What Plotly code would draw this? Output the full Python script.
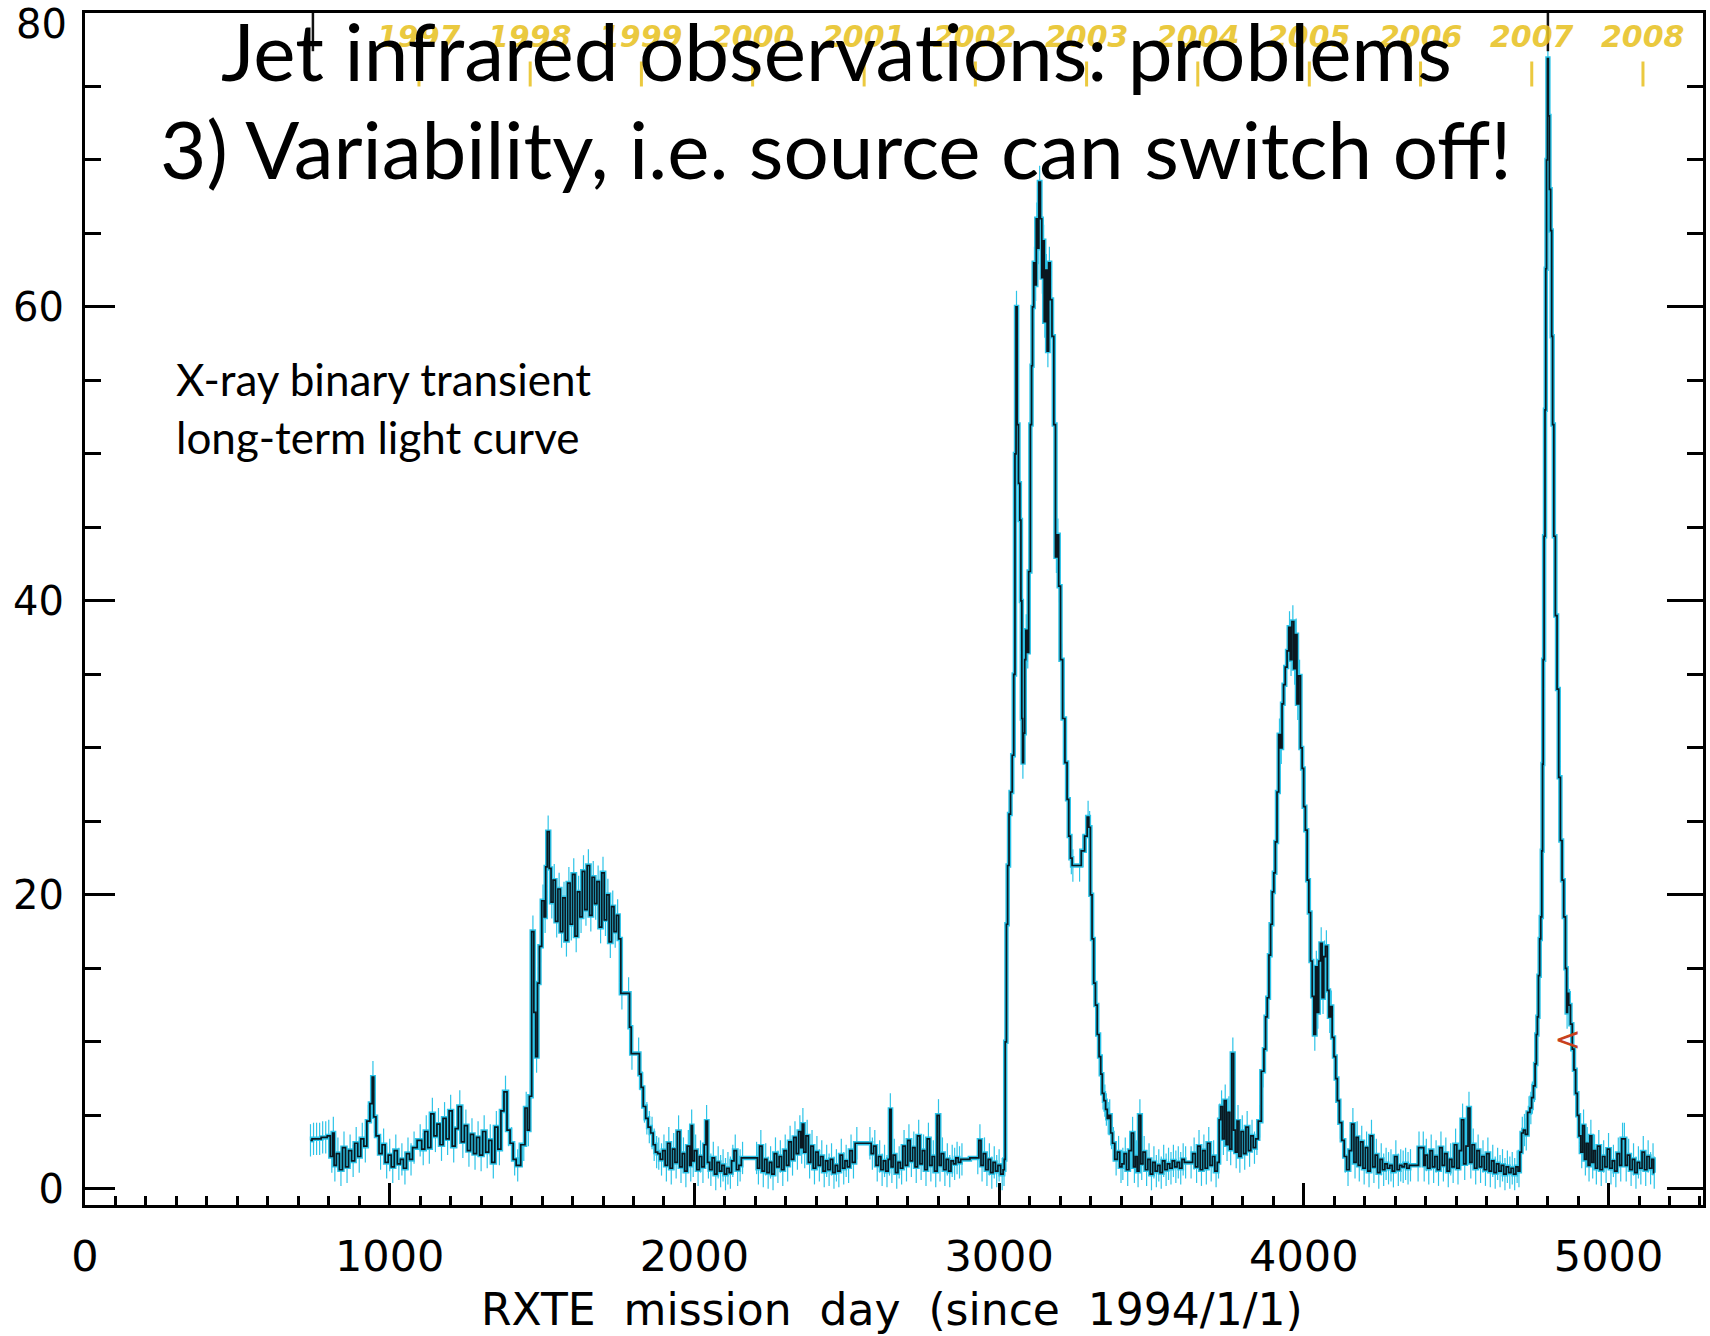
import plotly.graph_objects as go

# RXTE/ASM long-term light curve of the transient, grouped by epoch.
# Each entry: (mission day since 1994/1/1, count rate)
quiet_1996 = [
    (740, 3.3), (750, 3.4), (760, 3.4), (770, 3.4), (780, 3.5), (790, 3.5), (800, 3.6),
    (810, 2.2), (815, 3.8), (820, 1.6), (830, 2.4), (840, 1.3), (850, 2.8), (860, 1.5),
    (870, 2.6), (880, 1.9), (890, 3.1), (900, 2.2), (910, 3.4), (920, 2.9), (930, 4.6),
    (940, 5.8), (945, 7.6), (950, 4.9), (960, 3.6), (970, 2.4), (980, 3.0), (990, 1.8),
    (1000, 2.3), (1010, 1.5), (1020, 2.6), (1030, 1.7), (1040, 2.0), (1050, 1.4),
    (1060, 2.4), (1070, 2.0), (1080, 2.8), (1100, 3.3), (1110, 2.7), (1120, 3.9),
    (1130, 2.8), (1140, 5.1), (1150, 3.6), (1160, 4.4), (1170, 3.0), (1180, 4.8),
    (1190, 3.4), (1200, 5.3), (1210, 2.9), (1220, 4.1), (1230, 5.6), (1240, 3.2),
    (1250, 4.3), (1260, 2.6), (1270, 3.7), (1280, 2.4), (1290, 3.5), (1300, 2.3),
    (1310, 3.9), (1320, 2.5), (1330, 3.3), (1340, 1.8), (1350, 4.2), (1360, 2.7),
    (1370, 5.3), (1380, 6.6), (1390, 4.0), (1400, 3.1), (1410, 2.0), (1420, 1.6),
    (1440, 3.0),
]

outburst_1998 = [
    (1448, 5.5), (1455, 4.0), (1462, 6.3), (1470, 17.5), (1476, 12.0), (1482, 9.0),
    (1488, 14.0), (1495, 16.5), (1503, 19.6), (1510, 18.5), (1514, 21.9), (1520, 24.3),
    (1527, 21.8), (1532, 19.5), (1540, 21.0), (1548, 18.2), (1556, 20.4), (1564, 17.5),
    (1572, 19.8), (1580, 16.9), (1588, 20.8), (1596, 18.0), (1604, 21.4), (1612, 17.2),
    (1620, 20.2), (1628, 18.5), (1636, 21.6), (1644, 19.0), (1652, 22.0), (1660, 18.6),
    (1668, 21.2), (1676, 19.4), (1684, 20.9), (1692, 17.8), (1700, 21.5), (1708, 18.3),
    (1716, 20.0), (1724, 16.8), (1732, 19.2), (1740, 17.5), (1748, 18.6), (1755, 17.0),
    (1762, 13.3), (1784, 13.3), (1790, 11.0), (1795, 9.2), (1817, 9.2), (1822, 7.8),
    (1828, 6.9), (1836, 5.6), (1844, 4.8), (1852, 4.2), (1861, 3.8), (1868, 3.0),
    (1876, 2.5), (1883, 2.4), (1892, 2.0), (1900, 2.6),
]

quiet_1999 = [
    (1908, 1.6), (1916, 3.1), (1924, 1.4), (1932, 2.7), (1940, 1.8), (1948, 3.9),
    (1956, 1.5), (1964, 2.4), (1972, 1.2), (1980, 2.9), (1988, 1.6), (1991, 4.3),
    (1996, 1.9), (2004, 2.6), (2012, 1.3), (2020, 2.2), (2028, 1.5), (2036, 3.0),
    (2040, 4.6), (2046, 1.8), (2054, 1.3), (2062, 2.1), (2070, 1.0), (2078, 1.8),
    (2086, 1.2), (2094, 1.6), (2102, 1.0), (2110, 1.4), (2118, 1.1), (2126, 1.9),
    (2134, 2.6), (2142, 1.3), (2150, 1.6), (2158, 2.1), (2204, 2.1), (2210, 1.4),
    (2218, 2.9), (2226, 1.2), (2234, 2.0), (2242, 1.1), (2250, 1.8), (2258, 1.0),
    (2266, 2.4), (2274, 1.5), (2282, 2.2), (2290, 1.3), (2298, 2.6), (2306, 1.6),
    (2314, 3.2), (2322, 2.0), (2330, 3.5), (2338, 2.4), (2346, 3.9), (2352, 2.8),
    (2356, 4.4), (2362, 2.5), (2370, 3.6), (2378, 1.8), (2386, 2.9), (2394, 1.4),
    (2402, 2.5), (2410, 1.6), (2418, 2.2), (2426, 1.2), (2434, 1.9), (2442, 1.3),
    (2450, 2.0), (2458, 1.1), (2466, 1.6), (2474, 1.2), (2482, 2.3), (2490, 1.4),
    (2498, 1.9), (2506, 1.5), (2514, 2.6), (2522, 1.8), (2533, 3.1), (2576, 3.1),
    (2584, 2.4), (2592, 2.9), (2600, 1.6), (2608, 2.2), (2616, 1.3), (2624, 1.9),
    (2632, 1.2), (2640, 2.0), (2643, 5.4), (2648, 1.5), (2656, 2.3), (2664, 1.1),
    (2672, 1.8), (2680, 1.4), (2688, 2.9), (2696, 1.6), (2704, 3.3), (2712, 1.9),
    (2720, 2.8), (2728, 1.5), (2736, 3.6), (2744, 1.7), (2752, 2.6), (2760, 1.3),
    (2768, 3.4), (2776, 1.6), (2784, 2.2), (2792, 1.2), (2801, 5.0), (2806, 1.6),
    (2814, 2.4), (2822, 1.3), (2830, 2.0), (2838, 1.2), (2846, 1.9), (2854, 1.7),
    (2862, 2.1), (2870, 1.8), (2878, 2.0), (2930, 2.1), (2937, 3.3), (2944, 1.6),
    (2952, 2.4), (2960, 1.3), (2968, 2.0), (2976, 1.1), (2984, 1.8), (2992, 1.2),
    (3000, 1.6), (3010, 1.0), (3016, 1.3),
]

outburst_2002 = [
    (3018, 2.0), (3022, 10.0), (3026, 18.0), (3030, 22.0), (3035, 25.5), (3040, 27.0),
    (3046, 29.5), (3050, 35.0), (3054, 50.0), (3057, 60.0), (3061, 52.0), (3066, 48.0),
    (3070, 45.5), (3073, 40.0), (3076, 32.0), (3078, 29.0), (3082, 31.0), (3086, 36.0),
    (3089, 38.0), (3094, 36.5), (3100, 42.0), (3105, 52.0), (3108, 56.0), (3111, 60.0),
    (3116, 63.0), (3120, 61.5), (3124, 66.0), (3128, 64.0), (3133, 68.5), (3138, 66.0),
    (3142, 62.0), (3146, 64.5), (3150, 59.0), (3155, 62.5), (3160, 57.0), (3165, 63.0),
    (3170, 60.5), (3177, 58.0), (3182, 52.0), (3188, 43.0), (3193, 44.5), (3198, 41.0),
    (3205, 36.0), (3212, 32.0), (3220, 29.0), (3226, 26.5), (3231, 24.0), (3237, 22.5),
    (3242, 22.0), (3264, 22.0), (3275, 23.0), (3286, 24.0), (3292, 25.3), (3297, 24.6),
    (3302, 20.0), (3308, 17.0), (3313, 14.0), (3319, 12.5), (3325, 10.5), (3331, 9.0),
    (3336, 7.8), (3341, 6.5), (3347, 6.0), (3352, 5.4), (3358, 4.8), (3363, 5.0),
    (3369, 3.8), (3375, 3.1), (3384, 2.0), (3392, 2.5), (3400, 1.5), (3406, 1.7),
    (3414, 2.4), (3422, 1.3),
]

quiet_2003 = [
    (3430, 2.6), (3438, 3.8), (3444, 1.5), (3450, 2.2), (3456, 1.2), (3462, 5.0),
    (3468, 1.7), (3476, 2.5), (3484, 1.3), (3492, 2.0), (3500, 1.0), (3508, 1.8),
    (3516, 1.2), (3524, 1.6), (3532, 1.1), (3540, 1.9), (3548, 1.3), (3556, 1.7),
    (3564, 1.4), (3572, 1.9), (3580, 1.5), (3588, 1.8), (3596, 1.4), (3604, 2.0),
    (3612, 1.8), (3630, 1.8), (3640, 2.4), (3648, 1.5), (3656, 2.9), (3664, 1.3),
    (3672, 2.6), (3680, 1.4), (3688, 3.1), (3696, 1.6), (3704, 2.2), (3712, 1.2),
    (3720, 1.8), (3724, 4.7), (3730, 5.6), (3736, 3.4), (3742, 6.0), (3748, 3.0),
    (3754, 5.2), (3760, 2.7), (3767, 9.2), (3772, 4.0), (3778, 2.5), (3784, 4.6),
    (3790, 2.2), (3798, 3.9), (3806, 2.4), (3814, 4.2), (3822, 2.6), (3830, 3.6),
    (3838, 2.8), (3846, 3.4),
]

outburst_2004 = [
    (3855, 4.6), (3866, 8.0), (3872, 9.5), (3877, 11.7), (3883, 13.0), (3888, 15.9),
    (3894, 18.0), (3899, 20.2), (3904, 21.5), (3909, 23.6), (3915, 27.0), (3920, 30.9),
    (3926, 30.0), (3931, 33.0), (3936, 34.3), (3942, 35.5), (3948, 36.6), (3953, 38.2),
    (3958, 36.0), (3964, 38.6), (3970, 35.4), (3975, 37.7), (3980, 33.0), (3986, 34.9),
    (3992, 30.0), (3997, 28.6), (4002, 26.0), (4008, 24.4), (4014, 21.0), (4019, 18.8),
    (4025, 15.5), (4030, 13.1), (4036, 10.5), (4041, 15.1), (4046, 12.0), (4052, 15.5),
    (4057, 16.7), (4063, 13.0), (4068, 15.8), (4074, 16.5), (4080, 13.5), (4085, 11.7),
    (4090, 12.4), (4096, 10.3), (4102, 9.0), (4107, 7.5), (4113, 6.0), (4120, 4.5),
    (4129, 3.3), (4136, 2.2), (4145, 1.3), (4153, 2.6),
]

quiet_2005 = [
    (4161, 4.4), (4168, 1.8), (4175, 3.5), (4182, 1.6), (4190, 3.2), (4198, 1.4),
    (4206, 2.8), (4214, 1.2), (4222, 3.6), (4230, 1.5), (4238, 2.3), (4246, 1.1),
    (4254, 2.0), (4262, 1.3), (4270, 1.7), (4278, 1.4), (4286, 1.6), (4294, 1.2),
    (4302, 2.2), (4310, 1.3), (4318, 1.6), (4326, 1.5), (4334, 1.7), (4342, 1.4),
    (4350, 1.6), (4375, 1.6), (4378, 2.8), (4392, 2.8), (4395, 1.6), (4402, 2.3),
    (4410, 1.4), (4418, 2.6), (4426, 1.5), (4434, 2.2), (4442, 1.3), (4450, 2.8),
    (4458, 1.6), (4466, 2.4), (4474, 1.2), (4482, 2.0), (4490, 1.5), (4498, 3.0),
    (4506, 1.4), (4514, 2.6), (4521, 4.7), (4528, 1.7), (4536, 2.9), (4542, 5.5),
    (4548, 1.8), (4556, 3.0), (4564, 1.4), (4572, 2.6), (4580, 1.5), (4588, 2.2),
    (4596, 1.3), (4604, 2.4), (4612, 1.2), (4620, 1.9), (4628, 1.1), (4636, 1.7),
    (4644, 1.2), (4652, 1.6), (4660, 1.0), (4668, 1.5), (4676, 1.1), (4684, 1.4),
    (4692, 1.0), (4700, 1.5), (4706, 1.2),
]

outburst_2007 = [
    (4712, 2.5), (4717, 3.8), (4724, 4.0), (4730, 3.7), (4739, 5.2), (4745, 5.5),
    (4750, 6.2), (4757, 7.0), (4761, 8.5), (4765, 10.5), (4768, 11.7), (4772, 14.5),
    (4776, 17.0), (4779, 18.5), (4783, 23.0), (4784, 28.9), (4787, 36.0), (4790, 44.4),
    (4793, 53.0), (4795, 62.6), (4798, 70.0), (4801, 76.9), (4804, 73.0), (4808, 68.0),
    (4812, 65.2), (4815, 58.0), (4818, 52.0), (4823, 44.4), (4828, 39.0), (4834, 34.0),
    (4839, 28.0), (4845, 23.7), (4850, 21.0), (4856, 18.5), (4861, 15.0), (4864, 12.0),
    (4867, 13.3), (4872, 12.5), (4878, 11.2), (4884, 9.5), (4889, 8.1), (4895, 6.5),
    (4900, 5.0), (4906, 3.6), (4912, 2.5), (4918, 4.3), (4924, 2.0), (4930, 3.1),
    (4936, 1.6), (4942, 3.6), (4948, 1.8), (4954, 2.6), (4960, 1.4), (4968, 2.9),
    (4976, 1.3), (4984, 2.2), (4992, 1.5), (5000, 2.7), (5008, 1.4), (5016, 1.9),
    (5024, 1.2), (5032, 2.4), (5040, 1.6), (5046, 3.4), (5052, 3.4), (5058, 1.6),
    (5066, 2.3), (5074, 1.3), (5082, 2.0), (5090, 1.1), (5098, 1.8), (5106, 1.4),
    (5114, 2.5), (5122, 1.3), (5130, 2.2), (5138, 1.4), (5146, 2.0), (5150, 1.1),
]

# Calendar years marked along the top of the frame (first day of each year)
year_labels = ["1997", "1998", "1999", "2000", "2001", "2002",
               "2003", "2004", "2005", "2006", "2007", "2008"]
year_start_day = [1096, 1461, 1826, 2191, 2557, 2922, 3287, 3652, 4018, 4383, 4748, 5113]

# Infrared observing epochs flagged from the top axis
ir_epoch_day = [748, 4801]

# Current-state marker on the decay of the last outburst
marker_day = [4866]
marker_rate = [10.0]

# ZWNJ keeps the "ti" pair from fusing into a ligature
title_lines = ["Jet infrared observat\u200cions: problems",
               "3) Variability, i.e. source can switch off!"]
note_lines = ["X-ray binary transient", "long-term light curve"]
x_title = "RXTE\u00a0 mission\u00a0 day\u00a0 (since\u00a0 1994/1/1)"

segments = [quiet_1996, outburst_1998, quiet_1999, outburst_2002,
            quiet_2003, outburst_2004, quiet_2005, outburst_2007]
days = [d for seg in segments for d, _ in seg]
rates = [r for seg in segments for _, r in seg]

X_RANGE = [0, 5310]
Y_RANGE = [-1.1, 80]
CYAN = "rgb(45,196,232)"
GOLD = "rgba(232,194,36,0.88)"

fig = go.Figure()

# cyan halo under the light curve
fig.add_trace(go.Scatter(
    x=days, y=rates, mode="lines",
    line=dict(color=CYAN, width=4.5, shape="hvh"),
    error_y=dict(type="constant", value=1.1, color=CYAN, thickness=1.2, width=0),
    showlegend=False, hoverinfo="skip",
))

# light curve: histogram-style black line
fig.add_trace(go.Scatter(
    x=days, y=rates, mode="lines",
    line=dict(color="#0a1820", width=1.7, shape="hvh"),
    showlegend=False, hoverinfo="skip",
))

# yellow calendar-year tick marks
yx, yy = [], []
for d in year_start_day:
    yx += [d, d, None]
    yy += [76.7, 75.0, None]
fig.add_trace(go.Scatter(
    x=yx, y=yy, mode="lines",
    line=dict(color=GOLD, width=3),
    showlegend=False, hoverinfo="skip",
))

# IR epoch flags hanging from the top axis
ix, iy = [], []
for d in ir_epoch_day:
    ix += [d, d, None]
    iy += [80, 77.4, None]
fig.add_trace(go.Scatter(
    x=ix, y=iy, mode="lines",
    line=dict(color="#111111", width=2.5),
    showlegend=False, hoverinfo="skip",
))

# red marker
fig.add_trace(go.Scatter(
    x=marker_day, y=marker_rate, mode="text", text=["<"],
    textfont=dict(family="DejaVu Sans", size=32, color="#c8421e"),
    showlegend=False, hoverinfo="skip",
))

# dummy trace carrying the right-hand axis
fig.add_trace(go.Scatter(x=[None], y=[None], yaxis="y2", showlegend=False,
                         hoverinfo="skip"))

annotations = []
for lab, d in zip(year_labels, year_start_day):
    annotations.append(dict(
        x=d, y=78.4, xref="x", yref="y", text="<b><i>%s</i></b>" % lab,
        showarrow=False, xanchor="center", yanchor="middle", borderpad=0,
        font=dict(family="DejaVu Sans", size=30, color=GOLD),
    ))

# "80" label sits just inside the frame
annotations.append(dict(
    x=0, y=80, xref="paper", yref="y", text="80", showarrow=False,
    xanchor="right", yanchor="middle", xshift=-16, yshift=-11,
    font=dict(family="DejaVu Sans", size=40, color="black"),
))

annotations.append(dict(
    x=0.5, y=0, xref="paper", yref="paper", text=x_title, showarrow=False,
    xanchor="center", yanchor="middle", xshift=-2, yshift=-104,
    font=dict(family="DejaVu Sans", size=44, color="black"),
))

for i, line in enumerate(title_lines):
    annotations.append(dict(
        x=0, y=1, xref="paper", yref="paper", text=line, showarrow=False,
        xanchor="center", yanchor="middle", xshift=836 - 85,
        yshift=-(50 + 98 * i - 13),
        font=dict(family="Lato", size=80, color="black"),
    ))

for i, line in enumerate(note_lines):
    annotations.append(dict(
        x=0, y=1, xref="paper", yref="paper", text=line, showarrow=False,
        xanchor="left", yanchor="middle", xshift=174 - 85,
        yshift=-(379 + 58 * i - 13),
        font=dict(family="Lato", size=44, color="black"),
    ))

fig.update_layout(
    width=1710, height=1336,
    margin=dict(l=85, r=7, t=13, b=131),
    paper_bgcolor="white", plot_bgcolor="white",
    showlegend=False,
    annotations=annotations,
    xaxis=dict(
        range=X_RANGE, tickvals=[0, 1000, 2000, 3000, 4000, 5000],
        ticks="inside", ticklen=22, tickwidth=3, tickcolor="black",
        showline=True, linewidth=3, linecolor="black", mirror=True,
        showgrid=False, zeroline=False,
        minor=dict(dtick=100, tick0=0, ticks="inside", ticklen=9,
                   tickwidth=2.5, tickcolor="black", showgrid=False),
        tickfont=dict(family="DejaVu Sans", size=43, color="black"),
        ticklabelstandoff=11,
    ),
    yaxis=dict(
        range=Y_RANGE, tickvals=[0, 20, 40, 60],
        ticks="inside", ticklen=30, tickwidth=3, tickcolor="black",
        showline=True, linewidth=3, linecolor="black",
        showgrid=False, zeroline=False,
        minor=dict(dtick=5, tick0=0, ticks="inside", ticklen=16,
                   tickwidth=2.5, tickcolor="black", showgrid=False),
        tickfont=dict(family="DejaVu Sans", size=40, color="black"),
        ticklabelstandoff=10,
    ),
    yaxis2=dict(
        range=Y_RANGE, overlaying="y", side="right",
        tickvals=[0, 20, 40, 60, 80], showticklabels=False,
        ticks="inside", ticklen=36, tickwidth=3, tickcolor="black",
        showline=True, linewidth=3, linecolor="black",
        showgrid=False, zeroline=False,
        minor=dict(dtick=5, tick0=0, ticks="inside", ticklen=16,
                   tickwidth=2.5, tickcolor="black", showgrid=False),
    ),
)

fig.write_html("out.html", config={"displayModeBar": False})
